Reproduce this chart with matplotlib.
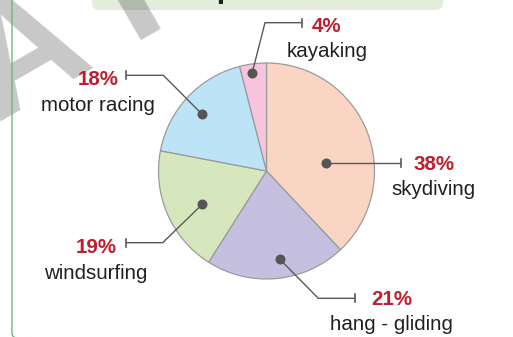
import numpy as np
import matplotlib
matplotlib.use("Agg")
import matplotlib.pyplot as plt
from matplotlib.patches import FancyBboxPatch

# ---- data -------------------------------------------------------------
sports = ["skydiving", "hang - gliding", "windsurfing", "motor racing", "kayaking"]
shares = [38, 21, 19, 18, 4]
pct_labels = ["38%", "21%", "19%", "18%", "4%"]
wedge_colors = ["#FAD5C3", "#C5C0E0", "#D6E7BD", "#BDE3F6", "#F7C5DB"]

# ---- canvas (1 data unit = 1 pixel, y up) -----------------------------
W, H = 513, 337
fig = plt.figure(figsize=(W / 100, H / 100), dpi=100)
ax = fig.add_axes([0, 0, 1, 1])

FONT = "Liberation Sans"
RED = "#BE1E2D"
INK = "#231F20"
LEADER = "#595959"

# rounded frame on the left and header strip
frame = FancyBboxPatch((12, -0.8), 700, 400,
                       boxstyle="round,pad=0,rounding_size=5",
                       fill=False, ec="#5DB761", lw=0.9, zorder=4)
ax.add_patch(frame)
header = FancyBboxPatch((92, 327), 351, 40,
                        boxstyle="round,pad=0,rounding_size=7",
                        fc="#E2EDDC", ec="none", zorder=1)
ax.add_patch(header)
ax.text(267.5, 340.4, "Our sport choices", ha="center", va="baseline",
        fontsize=22, fontweight="bold", family=FONT, color=INK, zorder=2)

# diagonal watermark, set in two runs along one baseline
WM_ANGLE = 30
wm_style = dict(rotation=WM_ANGLE, rotation_mode="anchor", ha="left",
                va="baseline", fontsize=115, fontweight="bold", family=FONT,
                color="black", alpha=0.22, zorder=3)
ax.text(-274.5, 57.5, "D R A", **wm_style)
ax.text(131.3, 292.7, "F T", **wm_style)

# ---- pie ----------------------------------------------------------------
centre = (266.5, 166)
radius = 108
ax.pie(shares, colors=wedge_colors, startangle=90, counterclock=False,
       center=centre, radius=radius,
       wedgeprops=dict(edgecolor="#9B9B9B", linewidth=0.9))

# ---- callouts -----------------------------------------------------------
# dot position (angle in degrees, distance from centre), elbow, end of leader,
# text centre x, percent baseline, name baseline
callouts = [
    dict(dot=(7.6, 60.5), elbow=None, end=(400.7, 173.7), tx=434.0, py=167.0, ny=142.0),
    dict(dot=(-81.4, 89.3), elbow=(318.3, 38.7), end=(355.3, 38.7), tx=391.5, py=32.0, ny=7.0),
    dict(dot=(-152.6, 72.4), elbow=(162.7, 94.3), end=(126.0, 94.3), tx=96.0, py=83.7, ny=58.0),
    dict(dot=(138.6, 85.7), elbow=(163.3, 261.7), end=(126.0, 261.7), tx=98.0, py=252.0, ny=226.0),
    dict(dot=(98.4, 98.8), elbow=(265.0, 314.3), end=(301.7, 314.3), tx=326.7, py=305.3, ny=280.0),
]

for name, pct, c in zip(sports, pct_labels, callouts):
    ang, dist = c["dot"]
    dx = centre[0] + dist * np.cos(np.radians(ang))
    dy = centre[1] + dist * np.sin(np.radians(ang))
    ex, ey = c["end"]
    if c["elbow"] is None:
        dy = ey
        xs, ys = [dx, ex], [ey, ey]
    else:
        xs = [dx, c["elbow"][0], ex]
        ys = [dy, c["elbow"][1], ey]
    ax.plot(xs, ys, color=LEADER, lw=1.0, solid_capstyle="butt", zorder=5)
    ax.plot([ex, ex], [ey - 4, ey + 4], color=LEADER, lw=1.2, zorder=5)
    ax.plot([dx], [dy], marker="o", ms=7.2, color="#555555", mec="none", zorder=6)
    ax.text(c["tx"], c["py"], pct, ha="center", va="baseline", fontsize=14.8,
            fontweight="bold", family=FONT, color=RED, zorder=6)
    ax.text(c["tx"], c["ny"], name, ha="center", va="baseline", fontsize=14.8,
            family=FONT, color=INK, zorder=6)

ax.set_xlim(0, W)
ax.set_ylim(0, H)
ax.set_aspect("auto")
ax.axis("off")

fig.savefig("out.png", dpi=100, facecolor="white")
